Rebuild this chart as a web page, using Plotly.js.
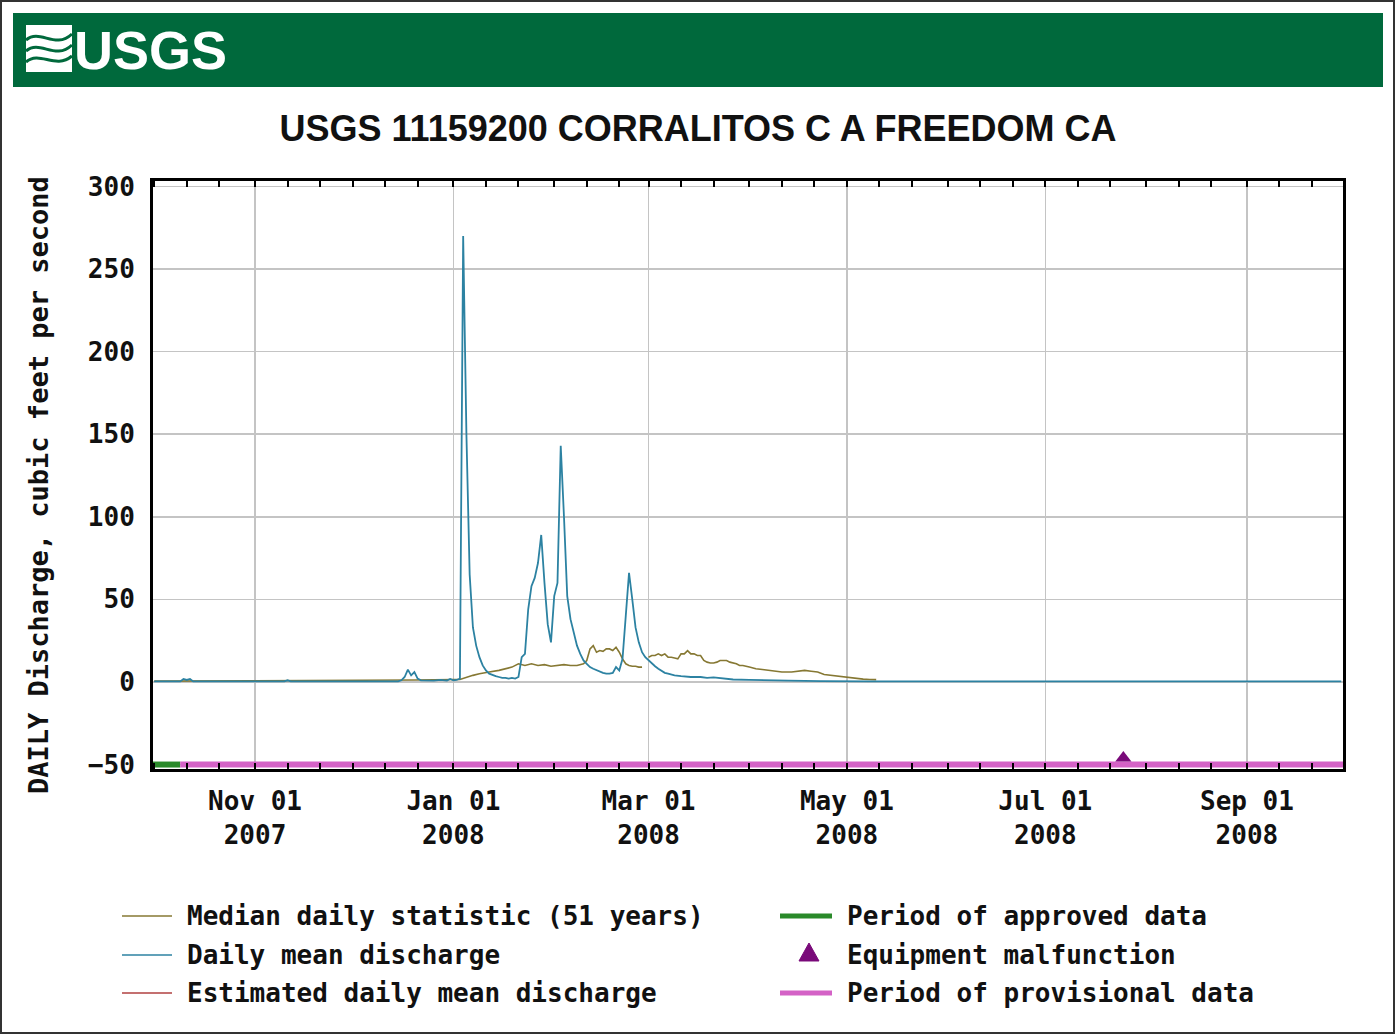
<!DOCTYPE html>
<html><head><meta charset="utf-8">
<script src="https://cdn.plot.ly/plotly-3.0.1.min.js"></script>
<style>html,body{margin:0;padding:0;background:#fff;}#chart{width:1395px;height:1034px;}</style>
</head><body><div id="chart"></div>
<script>
// ---------------- DATA ----------------
const chartTitle = 'USGS 11159200 CORRALITOS C A FREEDOM CA';
const yAxisTitle = 'DAILY Discharge, cubic feet per second';

const dischargeDates = ['2007-10-01','2007-10-09','2007-10-10','2007-10-11','2007-10-12','2007-10-13','2007-11-10','2007-11-11','2007-11-12','2007-12-15','2007-12-16','2007-12-17','2007-12-18','2007-12-19','2007-12-20','2007-12-21','2007-12-22','2007-12-26','2007-12-28','2007-12-30','2007-12-31','2008-01-01','2008-01-02','2008-01-03','2008-01-04','2008-01-05','2008-01-06','2008-01-07','2008-01-08','2008-01-09','2008-01-10','2008-01-11','2008-01-12','2008-01-13','2008-01-14','2008-01-15','2008-01-16','2008-01-17','2008-01-18','2008-01-19','2008-01-20','2008-01-21','2008-01-22','2008-01-23','2008-01-24','2008-01-25','2008-01-26','2008-01-27','2008-01-28','2008-01-29','2008-01-30','2008-01-31','2008-02-01','2008-02-02','2008-02-03','2008-02-04','2008-02-05','2008-02-06','2008-02-07','2008-02-08','2008-02-09','2008-02-10','2008-02-11','2008-02-12','2008-02-13','2008-02-14','2008-02-15','2008-02-16','2008-02-17','2008-02-18','2008-02-19','2008-02-20','2008-02-21','2008-02-22','2008-02-23','2008-02-24','2008-02-25','2008-02-26','2008-02-27','2008-02-28','2008-02-29','2008-03-01','2008-03-02','2008-03-03','2008-03-04','2008-03-05','2008-03-06','2008-03-07','2008-03-08','2008-03-09','2008-03-11','2008-03-14','2008-03-17','2008-03-19','2008-03-21','2008-03-24','2008-03-27','2008-04-01','2008-04-06','2008-04-13','2008-04-23','2008-05-08','2008-09-30'];
const dischargeValues = [0.3,0.3,1.8,1.2,1.8,0.3,0.3,1.0,0.3,0.4,1.0,3,7.5,4,6,2,1,0.8,1.2,0.8,1.8,1,1.2,2,270,150,65,33,22,15,10,7,5,4,3.5,3,2.5,2.5,2,2.5,2,3,15,17,44,58,63,72,89,60,35,24,52,60,143,100,52,38,29,22,17,13,11,9,8,7,6,5.5,5,5,5.5,9,7,14,40,66,50,33,24,18,15,13,11,9.5,8,6.5,5.5,5,4.5,4,3.5,3,3,2.5,2.8,2.2,1.5,1.3,1,0.8,0.5,0.4,0.3];

const medianDates = ['2007-10-01','2007-11-01','2007-12-01','2007-12-20','2008-01-01','2008-01-03','2008-01-07','2008-01-09','2008-01-12','2008-01-15','2008-01-19','2008-01-21','2008-01-23','2008-01-25','2008-01-27','2008-01-29','2008-01-31','2008-02-02','2008-02-04','2008-02-06','2008-02-08','2008-02-10','2008-02-11','2008-02-12','2008-02-13','2008-02-14','2008-02-15','2008-02-16','2008-02-17','2008-02-18','2008-02-19','2008-02-20','2008-02-21','2008-02-22','2008-02-23','2008-02-24','2008-02-25','2008-02-26','2008-02-27','2008-02-28','2008-02-29','2008-03-01','2008-03-02','2008-03-03','2008-03-04','2008-03-05','2008-03-06','2008-03-07','2008-03-08','2008-03-09','2008-03-10','2008-03-11','2008-03-12','2008-03-13','2008-03-14','2008-03-15','2008-03-16','2008-03-17','2008-03-18','2008-03-19','2008-03-20','2008-03-21','2008-03-22','2008-03-23','2008-03-24','2008-03-25','2008-03-26','2008-03-27','2008-03-28','2008-03-29','2008-03-30','2008-04-01','2008-04-03','2008-04-05','2008-04-07','2008-04-09','2008-04-11','2008-04-14','2008-04-16','2008-04-18','2008-04-20','2008-04-22','2008-04-24','2008-04-26','2008-04-28','2008-04-30','2008-05-02','2008-05-04','2008-05-06','2008-05-08','2008-05-10'];
const medianValues = [0.5,0.6,1.0,1.2,1.5,1.5,4,5,6,7,9,11,10,11,10,10.5,9.5,10,10.5,10,10,11,13,20,22,18,19,18.5,20,20,19,21,18,14,11,10,9.5,9.5,9,9,null,15,16,16,17,16,17,15,15,14.5,14,17,17,19,17,17,16,16,13,12,11.5,11.5,12,13,13,13,12,11.5,11,10,10,9,8,7.5,7,6.5,6,6,6.5,7,6.5,6,4.5,4,3.6,3,2.4,2,1.7,1.5,1.4];

const approvedDates = ['2007-09-30','2007-10-09'];
const provisionalDates = ['2007-10-09','2008-10-01'];
const periodLevel = -50;
const malfunctionDates = ['2008-07-25'];
const malfunctionValues = [-46];

const yTickVals = [-50,0,50,100,150,200,250,300];
const xTickVals = ['2007-11-01','2008-01-01','2008-03-01','2008-05-01','2008-07-01','2008-09-01'];
const xTickText = ['Nov 01<br>2007','Jan 01<br>2008','Mar 01<br>2008','May 01<br>2008','Jul 01<br>2008','Sep 01<br>2008'];

const legendNames = ['Median daily statistic (51 years)','Daily mean discharge','Estimated daily mean discharge','Period of approved data','Equipment malfunction','Period of provisional data'];

// ---------------- LAYOUT HELPERS ----------------
const W = 1395, H = 1034, L = 153, R = 1343, T = 181, B = 769;
const PX = x => (x - L) / (R - L);
const PY = y => (B - y) / (B - T);
const P = (x, y) => PX(x).toFixed(5) + ',' + PY(y).toFixed(5);

const mono = 'DejaVu Sans Mono, Liberation Mono, monospace';
const sansB = 'Liberation Sans, Arial, sans-serif';
const colMedian = '#867833', colMean = '#2c82a2', colEst = '#b04040';
const colApproved = '#2a8a2a', colProv = '#d462c6', colMal = '#7a0a7a';
const colGreen = '#00693c';

// minor tick positions: 1st, 11th, 21st of each month
const minorVals = [];
for (let m = 0; m < 12; m++) {
  const yr = m < 3 ? 2007 : 2008, mo = ((m + 9) % 12) + 1;
  [1, 11, 21].forEach(d => minorVals.push(yr + '-' + String(mo).padStart(2,'0') + '-' + String(d).padStart(2,'0')));
}

const traces = [
  {x: medianDates, y: medianValues, type:'scatter', mode:'lines', name: legendNames[0],
   line:{color: colMedian, width:1.6}, connectgaps:false},
  {x: approvedDates, y: approvedDates.map(() => periodLevel), type:'scatter', mode:'lines', name: legendNames[3],
   line:{color: colApproved, width:6}},
  {x: provisionalDates, y: provisionalDates.map(() => periodLevel), type:'scatter', mode:'lines', name: legendNames[5],
   line:{color: colProv, width:6}},
  {x: dischargeDates, y: dischargeValues, type:'scatter', mode:'lines', name: legendNames[1],
   line:{color: colMean, width:1.8}},
  {x: malfunctionDates, y: malfunctionValues, type:'scatter', mode:'markers', name: legendNames[4],
   marker:{symbol:'triangle-up', size:14, color: colMal}}
];

const shapes = [
  {type:'rect', xref:'paper', yref:'paper', x0:PX(1), x1:PX(1394), y0:PY(1033), y1:PY(1), line:{color:'#333', width:2}, fillcolor:'rgba(0,0,0,0)', layer:'below'},
  {type:'rect', xref:'paper', yref:'paper', x0:PX(13), x1:PX(1383), y0:PY(87), y1:PY(13), line:{width:0}, fillcolor:colGreen},
  {type:'rect', xref:'paper', yref:'paper', x0:PX(26), x1:PX(72), y0:PY(72), y1:PY(25), line:{width:0}, fillcolor:'#ffffff'},
  {type:'path', xref:'paper', yref:'paper', line:{color:colGreen, width:3},
   path:'M' + P(26,40) + ' C' + P(40,28) + ' ' + P(55,50) + ' ' + P(72,34)},
  {type:'path', xref:'paper', yref:'paper', line:{color:colGreen, width:3},
   path:'M' + P(26,51) + ' C' + P(40,39) + ' ' + P(55,61) + ' ' + P(72,45)},
  {type:'path', xref:'paper', yref:'paper', line:{color:colGreen, width:3},
   path:'M' + P(26,62) + ' C' + P(40,50) + ' ' + P(55,70) + ' ' + P(72,56)}
];

// legend (drawn manually in two columns)
const legRows = [916, 955, 993];
const legItems = [
  {name: legendNames[0], col:0, row:0, kind:'line', color:colMedian, w:1.6},
  {name: legendNames[1], col:0, row:1, kind:'line', color:colMean, w:1.6},
  {name: legendNames[2], col:0, row:2, kind:'line', color:colEst, w:1.6},
  {name: legendNames[3], col:1, row:0, kind:'line', color:colApproved, w:5},
  {name: legendNames[4], col:1, row:1, kind:'tri', color:colMal},
  {name: legendNames[5], col:1, row:2, kind:'line', color:colProv, w:5}
];
const legCols = [{x0:122, x1:172, tx:185}, {x0:780, x1:832, tx:845}];

const annotations = [
  {text:'USGS', xref:'paper', yref:'paper', x:PX(72), y:PY(50), xanchor:'left', yanchor:'middle', showarrow:false,
   font:{family:sansB, size:54, weight:'bold', color:'#ffffff'}},
  {text:yAxisTitle, xref:'paper', yref:'paper', x:PX(38), y:PY(485), xanchor:'center', yanchor:'middle', showarrow:false,
   textangle:-90, font:{family:mono, size:27, weight:'bold', color:'#111'}}
];

legItems.forEach(it => {
  const c = legCols[it.col], y = legRows[it.row];
  if (it.kind === 'line') {
    shapes.push({type:'line', xref:'paper', yref:'paper', x0:PX(c.x0), x1:PX(c.x1), y0:PY(y), y1:PY(y), line:{color:it.color, width:it.w}});
  } else {
    shapes.push({type:'path', xref:'paper', yref:'paper', fillcolor:it.color, line:{color:it.color, width:1},
      path:'M' + P(809, y-12) + ' L' + P(799, y+6) + ' L' + P(819, y+6) + ' Z'});
  }
  annotations.push({text:it.name, xref:'paper', yref:'paper', x:PX(c.tx), y:PY(y), xanchor:'left', yanchor:'middle', showarrow:false,
    font:{family:mono, size:26, weight:'bold', color:'#111'}});
});

const layout = {
  width:W, height:H,
  margin:{l:L, r:W-R, t:T, b:H-B, pad:0},
  paper_bgcolor:'#ffffff', plot_bgcolor:'#ffffff',
  showlegend:false,
  title:{text:chartTitle, x:698/W, xanchor:'center', xref:'container', y:1-128/H, yanchor:'middle', yref:'container',
    font:{family:sansB, size:36, weight:'bold', color:'#111'}},
  xaxis:{type:'date', range:['2007-09-30 15:00','2008-09-30 13:00'],
    tickmode:'array', tickvals:xTickVals, ticktext:xTickText,
    ticks:'inside', ticklen:6, tickwidth:2, tickcolor:'#000',
    minor:{tickmode:'array', tickvals:minorVals, ticks:'inside', ticklen:6, tickwidth:2, tickcolor:'#000', showgrid:false},
    showgrid:true, gridcolor:'#c4c4c4', gridwidth:1.5,
    showline:true, linecolor:'#000', linewidth:3, mirror:'ticks', zeroline:false,
    tickfont:{family:mono, size:26, weight:'bold', color:'#111'}, ticklabelstandoff:7},
  yaxis:{range:[-52.7,303.3], tickmode:'array', tickvals:yTickVals, ticks:'',
    showgrid:true, gridcolor:'#c4c4c4', gridwidth:1.5,
    showline:true, linecolor:'#000', linewidth:3, mirror:true, zeroline:false,
    tickfont:{family:mono, size:26, weight:'bold', color:'#111'}, ticklabelstandoff:10},
  shapes:shapes, annotations:annotations
};

Plotly.newPlot('chart', traces, layout, {displayModeBar:false, staticPlot:true});
</script></body></html>
